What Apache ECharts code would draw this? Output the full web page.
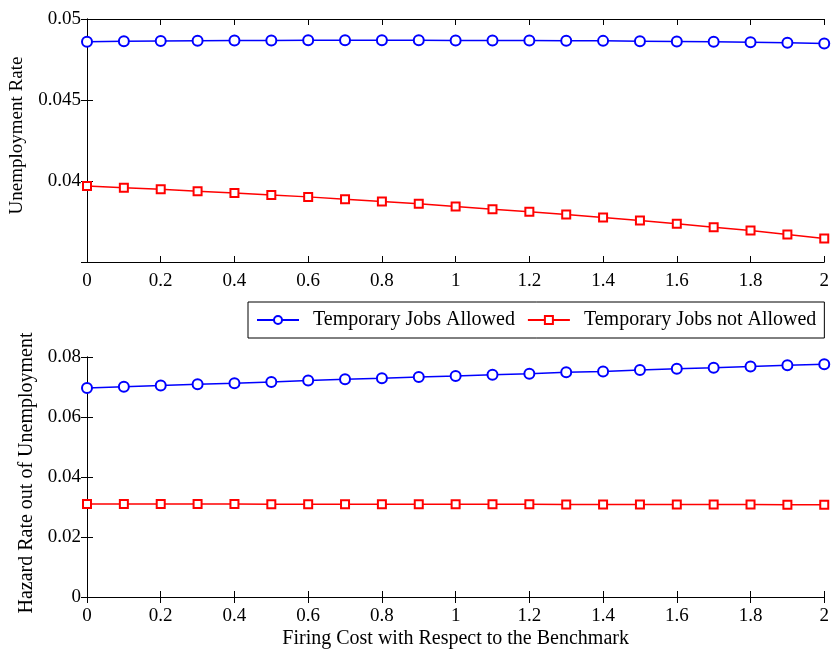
<!DOCTYPE html>
<html>
<head>
<meta charset="utf-8">
<script src="https://cdn.jsdelivr.net/npm/echarts@6/dist/echarts.min.js"></script>
<style>html,body{margin:0;padding:0;background:#fff}#c{width:832px;height:650px}</style>
</head>
<body>
<div id="c"></div>
<script>
const firingCost = [0,0.1,0.2,0.3,0.4,0.5,0.6,0.7,0.8,0.9,1.0,1.1,1.2,1.3,1.4,1.5,1.6,1.7,1.8,1.9,2.0];
const unempAllowed = [0.04859,0.04862,0.04864,0.04866,0.04867,0.04868,0.04869,0.04869,0.04869,0.04869,0.04868,0.04868,0.04867,0.04866,0.04865,0.04863,0.04861,0.04859,0.04856,0.04853,0.04849];
const unempNotAllowed = [0.03969,0.03959,0.03949,0.03937,0.03926,0.03914,0.03902,0.03887,0.03873,0.03859,0.03842,0.03826,0.03810,0.03793,0.03775,0.03756,0.03736,0.03715,0.03695,0.03670,0.03645];
const hazardAllowed = [0.06964,0.07007,0.07049,0.07094,0.07128,0.0717,0.07213,0.0726,0.0729,0.07335,0.07367,0.0741,0.07443,0.07489,0.0752,0.07564,0.07607,0.0764,0.07685,0.07728,0.0776];
const hazardNotAllowed = [0.03100,0.03099,0.03098,0.03097,0.03096,0.03095,0.03094,0.03093,0.03092,0.03091,0.03090,0.03089,0.03088,0.03087,0.03086,0.03085,0.03084,0.03082,0.03080,0.03078,0.03076];
const seriesNames = ['Temporary Jobs Allowed','Temporary Jobs not Allowed'];
const xTickLabels = ['0','0.2','0.4','0.6','0.8','1','1.2','1.4','1.6','1.8','2'];
const topYTickLabels = ['','0.04','0.045','0.05'];
const bottomYTickLabels = ['0','0.02','0.04','0.06','0.08'];
const xTitle = 'Firing Cost with Respect to the Benchmark';
const topYTitle = 'Unemployment Rate';
const bottomYTitle = 'Hazard Rate out of Unemployment';

const FONT = 'Liberation Serif';
const pairs = (xs, ys) => xs.map((x, i) => [x, ys[i]]);
const lineAx = {show: true, lineStyle: {color: '#000', width: 1}};
const tickIn = {show: true, inside: true, length: 6, lineStyle: {color: '#000', width: 1}};
const lbl = {color: '#000', fontFamily: FONT, fontSize: 19};

function xAxes(gi, showLabels) {
  return [
    {type: 'value', gridIndex: gi, min: 0, max: 2, interval: 0.2, position: 'bottom',
     axisLine: lineAx, axisTick: tickIn, splitLine: {show: false},
     axisLabel: Object.assign({margin: 10, formatter: (v) => xTickLabels[Math.round(v / 0.2)]}, lbl),
     name: showLabels ? xTitle : '', nameLocation: 'middle', nameGap: 32,
     nameTextStyle: {color: '#000', fontFamily: FONT, fontSize: 20}},
    {type: 'value', gridIndex: gi, min: 0, max: 2, interval: 0.2, position: 'top',
     axisLine: lineAx, axisTick: tickIn, splitLine: {show: false}, axisLabel: {show: false}}
  ];
}

const option = {
  backgroundColor: '#fff',
  animation: false,
  grid: [
    {left: 87, right: 5, top: 19, height: 243},
    {left: 87, right: 5, top: 357, height: 244}
  ],
  legend: {
    data: seriesNames,
    left: 248, top: 302,
    orient: 'horizontal',
    backgroundColor: '#fff',
    borderColor: '#000', borderWidth: 1,
    padding: [8, 8, 8, 8],
    itemWidth: 42, itemHeight: 10, itemGap: 12,
    textStyle: {color: '#000', fontFamily: FONT, fontSize: 20, padding: [0, 0, 0, 9]}
  },
  xAxis: [].concat(xAxes(0, false), xAxes(1, true)),
  yAxis: [
    {type: 'value', gridIndex: 0, min: 0.035, max: 0.05, interval: 0.005, position: 'left',
     axisLine: lineAx, axisTick: tickIn, splitLine: {show: false},
     axisLabel: Object.assign({margin: 6, formatter: (v) => topYTickLabels[Math.round((v - 0.035) / 0.005)]}, lbl),
     name: topYTitle, nameLocation: 'middle', nameGap: 60,
     nameTextStyle: {color: '#000', fontFamily: FONT, fontSize: 19, padding: [0, 0, 0, 10]}},
    {type: 'value', gridIndex: 0, min: 0.035, max: 0.05, interval: 0.005, position: 'right',
     axisLine: lineAx, axisTick: tickIn, splitLine: {show: false}, axisLabel: {show: false}},
    {type: 'value', gridIndex: 1, min: 0, max: 0.08, interval: 0.02, position: 'left',
     axisLine: lineAx, axisTick: tickIn, splitLine: {show: false},
     axisLabel: Object.assign({margin: 6, formatter: (v) => bottomYTickLabels[Math.round(v / 0.02)]}, lbl),
     name: bottomYTitle, nameLocation: 'middle', nameGap: 50,
     nameTextStyle: {color: '#000', fontFamily: FONT, fontSize: 20, padding: [0, 0, 0, 8]}},
    {type: 'value', gridIndex: 1, min: 0, max: 0.08, interval: 0.02, position: 'right',
     axisLine: lineAx, axisTick: tickIn, splitLine: {show: false}, axisLabel: {show: false}}
  ],
  series: [
    {name: seriesNames[0], type: 'line', xAxisIndex: 0, yAxisIndex: 0, data: pairs(firingCost, unempAllowed),
     symbol: 'emptyCircle', symbolSize: 10, color: '#0000ff', lineStyle: {width: 1.5, color: '#0000ff'},
     itemStyle: {color: '#0000ff', borderWidth: 1.5}},
    {name: seriesNames[1], type: 'line', xAxisIndex: 0, yAxisIndex: 0, data: pairs(firingCost, unempNotAllowed),
     symbol: 'emptyRect', symbolSize: 8, color: '#ff0000', lineStyle: {width: 1.5, color: '#ff0000'},
     itemStyle: {color: '#ff0000', borderWidth: 1.5}},
    {name: seriesNames[0], type: 'line', xAxisIndex: 2, yAxisIndex: 2, data: pairs(firingCost, hazardAllowed),
     symbol: 'emptyCircle', symbolSize: 10, color: '#0000ff', lineStyle: {width: 1.5, color: '#0000ff'},
     itemStyle: {color: '#0000ff', borderWidth: 1.5}},
    {name: seriesNames[1], type: 'line', xAxisIndex: 2, yAxisIndex: 2, data: pairs(firingCost, hazardNotAllowed),
     symbol: 'emptyRect', symbolSize: 8, color: '#ff0000', lineStyle: {width: 1.5, color: '#ff0000'},
     itemStyle: {color: '#ff0000', borderWidth: 1.5}}
  ]
};
const chart = echarts.init(document.getElementById('c'), null, {renderer: 'canvas'});
chart.setOption(option);
</script>
</body>
</html>
